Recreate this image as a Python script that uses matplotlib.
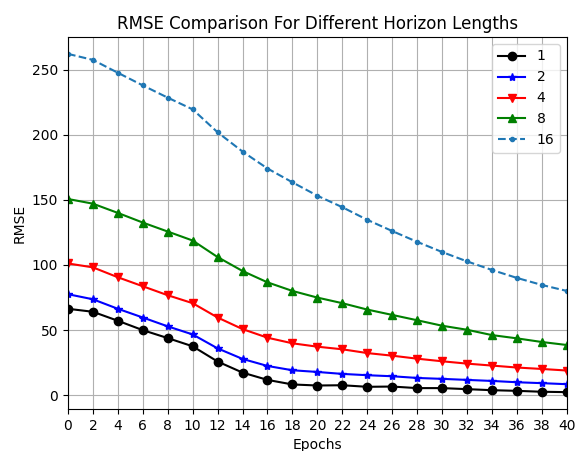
import matplotlib
matplotlib.use("Agg")
import matplotlib.pyplot as plt
import numpy as np

epochs = list(range(0, 41, 2))
h1 = [66.3, 64.0, 57.1, 49.9, 43.8, 37.5, 25.8, 17.3, 11.7, 8.2, 7.4, 7.6, 6.4, 6.6, 5.4, 5.4, 4.6, 3.8, 3.3, 2.6, 2.3]
h2 = [77.5, 73.6, 66.3, 59.6, 52.8, 46.6, 35.9, 27.8, 22.4, 19.1, 17.8, 16.3, 15.3, 14.5, 13.2, 12.5, 11.7, 10.9, 9.9, 9.2, 8.4]
h4 = [101.1, 98.1, 90.5, 83.6, 76.7, 70.6, 59.6, 50.7, 44.1, 39.8, 37.2, 35.2, 32.3, 30.3, 28.0, 26.0, 24.2, 22.7, 21.2, 20.1, 18.9]
h8 = [150.6, 147.0, 139.9, 132.5, 125.6, 118.7, 106.0, 95.3, 86.6, 80.0, 74.9, 70.6, 65.7, 61.6, 57.5, 53.3, 50.2, 46.1, 43.6, 40.8, 38.5]
h16 = [262.0, 257.4, 247.5, 237.8, 228.4, 219.4, 201.8, 187.0, 174.0, 163.4, 153.1, 144.3, 134.6, 126.0, 117.7, 109.9, 102.7, 96.1, 90.0, 84.6, 80.0]

fig = plt.figure(figsize=(5.76, 4.51), dpi=100)
ax = fig.add_axes([0.118, 0.093, 0.866, 0.825])
ax.plot(epochs, h1, color='black', marker='o', label='1')
ax.plot(epochs, h2, color='blue', marker='*', label='2')
ax.plot(epochs, h4, color='red', marker='v', label='4')
ax.plot(epochs, h8, color='green', marker='^', label='8')
ax.plot(epochs, h16, color='C0', marker='.', linestyle='--', label='16')
ax.set_xlim(0, 40)
ax.set_xticks(epochs)
ax.grid(True)
ax.set_xlabel('Epochs')
ax.set_ylabel('RMSE')
ax.set_title('RMSE Comparison For Different Horizon Lengths')
ax.legend(loc='upper right')
fig.savefig('out.png', dpi=100)
